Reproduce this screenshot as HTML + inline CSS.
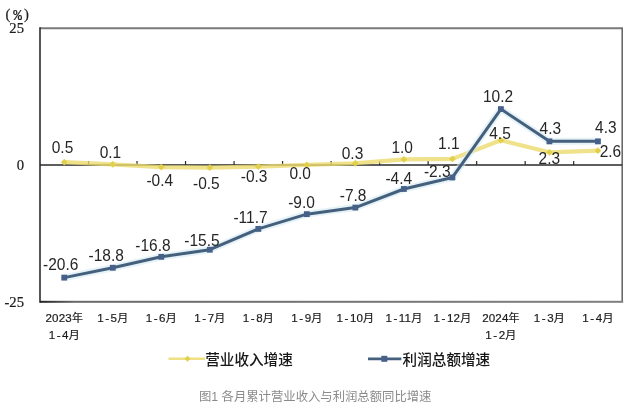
<!DOCTYPE html>
<html lang="zh-CN">
<head>
<meta charset="utf-8">
<title>图1 各月累计营业收入与利润总额同比增速</title>
<style>
html,body{margin:0;padding:0;background:#fff;}
body{width:632px;height:411px;overflow:hidden;position:relative;font-family:"Liberation Sans","Noto Sans CJK SC",sans-serif;}
svg{position:absolute;left:0;top:0;display:block;}
.dl{font-family:"Liberation Sans",sans-serif;font-size:15.5px;fill:#262626;text-anchor:middle;}
.ax{font-family:"Liberation Serif","Noto Serif CJK SC",serif;font-size:14.67px;fill:#1a1a1a;stroke:#1a1a1a;stroke-width:0.2px;text-anchor:end;}
.xl{font-family:"Liberation Sans","Noto Sans CJK SC",sans-serif;font-size:11.6px;letter-spacing:0.15px;fill:#1a1a1a;stroke:#1a1a1a;stroke-width:0.18px;text-anchor:middle;}
.cj{font-size:11px;}
.lg{font-family:"Liberation Sans","Noto Sans CJK SC",sans-serif;font-size:14.6px;fill:#151515;font-weight:500;}
.cap{font-family:"Liberation Sans","Noto Sans CJK SC",sans-serif;font-size:12.35px;fill:#8a8a8a;text-anchor:middle;}
</style>
</head>
<body>
<svg width="632" height="411" viewBox="0 0 632 411">
<defs>
<linearGradient id="bg" x1="0" y1="0" x2="1" y2="0"><stop offset="0" stop-color="#222"/><stop offset="0.06" stop-color="#6a6a6a"/><stop offset="1" stop-color="#808080"/></linearGradient>
<filter id="soft" x="-5%" y="-5%" width="110%" height="110%"><feGaussianBlur stdDeviation="0.45"/></filter>
</defs>
<rect x="0" y="0" width="632" height="411" fill="#ffffff"/>
<g filter="url(#soft)">

<path d="M40.0,28.2 H623.0" fill="none" stroke="#7a7a7a" stroke-width="2"/>
<path d="M622.2,28.2 V301.8" fill="none" stroke="#6a6a6a" stroke-width="1.6"/>
<rect x="40.0" y="300.8" width="583.2" height="2" fill="url(#bg)"/>
<path d="M40.0,27.2 V302.8" fill="none" stroke="#2a2a2a" stroke-width="1.6"/>
<path d="M40.0,164.9 H622.2" fill="none" stroke="#2a2a2a" stroke-width="1.5"/>
<path d="M88.52,164.9 v-4M137.03,164.9 v-4M185.55,164.9 v-4M234.07,164.9 v-4M282.58,164.9 v-4M331.10,164.9 v-4M379.62,164.9 v-4M428.13,164.9 v-4M476.65,164.9 v-4M525.17,164.9 v-4M573.68,164.9 v-4" fill="none" stroke="#2a2a2a" stroke-width="1.2"/>
<polyline points="64.26,162.16 112.78,164.35 161.29,167.09 209.81,167.64 258.33,166.54 306.84,164.90 355.36,163.26 403.88,159.43 452.39,158.88 500.91,140.28 549.43,152.31 597.94,150.67" fill="none" stroke="#ebdb6d" stroke-opacity="0.8" stroke-width="4.2" stroke-linejoin="round" stroke-linecap="round"/>
<path d="M60.86,162.16 L64.26,158.76 L67.66,162.16 L64.26,165.56 Z" fill="#e2d04e"/>
<path d="M109.38,164.35 L112.78,160.95 L116.18,164.35 L112.78,167.75 Z" fill="#e2d04e"/>
<path d="M157.89,167.09 L161.29,163.69 L164.69,167.09 L161.29,170.49 Z" fill="#e2d04e"/>
<path d="M206.41,167.64 L209.81,164.24 L213.21,167.64 L209.81,171.04 Z" fill="#e2d04e"/>
<path d="M254.93,166.54 L258.33,163.14 L261.73,166.54 L258.33,169.94 Z" fill="#e2d04e"/>
<path d="M303.44,164.90 L306.84,161.50 L310.24,164.90 L306.84,168.30 Z" fill="#e2d04e"/>
<path d="M351.96,163.26 L355.36,159.86 L358.76,163.26 L355.36,166.66 Z" fill="#e2d04e"/>
<path d="M400.48,159.43 L403.88,156.03 L407.28,159.43 L403.88,162.83 Z" fill="#e2d04e"/>
<path d="M448.99,158.88 L452.39,155.48 L455.79,158.88 L452.39,162.28 Z" fill="#e2d04e"/>
<path d="M497.51,140.28 L500.91,136.88 L504.31,140.28 L500.91,143.68 Z" fill="#e2d04e"/>
<path d="M546.03,152.31 L549.43,148.91 L552.83,152.31 L549.43,155.71 Z" fill="#e2d04e"/>
<path d="M594.54,150.67 L597.94,147.27 L601.34,150.67 L597.94,154.07 Z" fill="#e2d04e"/>
<polyline points="64.26,277.62 112.78,267.77 161.29,256.83 209.81,249.72 258.33,228.92 306.84,214.15 355.36,207.58 403.88,188.98 452.39,177.49 500.91,109.09 549.43,141.37 597.94,141.37" fill="none" stroke="#cfe7f0" stroke-opacity="0.55" stroke-width="7" stroke-linejoin="round" stroke-linecap="round"/>
<polyline points="64.26,277.62 112.78,267.77 161.29,256.83 209.81,249.72 258.33,228.92 306.84,214.15 355.36,207.58 403.88,188.98 452.39,177.49 500.91,109.09 549.43,141.37 597.94,141.37" fill="none" stroke="#44607c" stroke-width="3" stroke-linejoin="round" stroke-linecap="round"/>
<rect x="61.36" y="274.72" width="5.8" height="5.8" fill="#46608a"/>
<rect x="109.88" y="264.87" width="5.8" height="5.8" fill="#46608a"/>
<rect x="158.39" y="253.93" width="5.8" height="5.8" fill="#46608a"/>
<rect x="206.91" y="246.82" width="5.8" height="5.8" fill="#46608a"/>
<rect x="255.43" y="226.02" width="5.8" height="5.8" fill="#46608a"/>
<rect x="303.94" y="211.25" width="5.8" height="5.8" fill="#46608a"/>
<rect x="352.46" y="204.68" width="5.8" height="5.8" fill="#46608a"/>
<rect x="400.98" y="186.08" width="5.8" height="5.8" fill="#46608a"/>
<rect x="449.49" y="174.59" width="5.8" height="5.8" fill="#46608a"/>
<rect x="498.01" y="106.19" width="5.8" height="5.8" fill="#46608a"/>
<rect x="546.53" y="138.47" width="5.8" height="5.8" fill="#46608a"/>
<rect x="595.04" y="138.47" width="5.8" height="5.8" fill="#46608a"/>
<path d="M168.5,358.8 H205" stroke="#ebdb6d" stroke-opacity="0.85" stroke-width="2.4"/>
<path d="M184.5,358.8 l3,-3 l3,3 l-3,3 z" fill="#e2d04e"/>
<path d="M368,358.8 H401.3" stroke="#44607c" stroke-width="2.7"/>
<rect x="381.3" y="355.8" width="6" height="6" fill="#46608a"/>
</g>
<g id="labels" filter="url(#soft)">
<text class="dl" x="62.50" y="152.80" transform="translate(0,152.80) scale(1,1.11) translate(0,-152.80)">0.5</text>
<text class="dl" x="110.40" y="158.40" transform="translate(0,158.40) scale(1,1.11) translate(0,-158.40)">0.1</text>
<text class="dl" x="159.75" y="186.20" transform="translate(0,186.20) scale(1,1.11) translate(0,-186.20)">-0.4</text>
<text class="dl" x="206.35" y="189.00" transform="translate(0,189.00) scale(1,1.11) translate(0,-189.00)">-0.5</text>
<text class="dl" x="254.15" y="182.00" transform="translate(0,182.00) scale(1,1.11) translate(0,-182.00)">-0.3</text>
<text class="dl" x="300.20" y="179.40" transform="translate(0,179.40) scale(1,1.11) translate(0,-179.40)">0.0</text>
<text class="dl" x="352.50" y="158.70" transform="translate(0,158.70) scale(1,1.11) translate(0,-158.70)">0.3</text>
<text class="dl" x="402.20" y="153.00" transform="translate(0,153.00) scale(1,1.11) translate(0,-153.00)">1.0</text>
<text class="dl" x="448.90" y="149.00" transform="translate(0,149.00) scale(1,1.11) translate(0,-149.00)">1.1</text>
<text class="dl" x="500.00" y="138.60" transform="translate(0,138.60) scale(1,1.11) translate(0,-138.60)">4.5</text>
<text class="dl" x="549.30" y="164.00" transform="translate(0,164.00) scale(1,1.11) translate(0,-164.00)">2.3</text>
<text class="dl" x="610.40" y="157.00" transform="translate(0,157.00) scale(1,1.11) translate(0,-157.00)">2.6</text>
<text class="dl" x="60.65" y="269.90" transform="translate(0,269.90) scale(1,1.11) translate(0,-269.90)">-20.6</text>
<text class="dl" x="106.20" y="261.00" transform="translate(0,261.00) scale(1,1.11) translate(0,-261.00)">-18.8</text>
<text class="dl" x="153.00" y="250.90" transform="translate(0,250.90) scale(1,1.11) translate(0,-250.90)">-16.8</text>
<text class="dl" x="202.00" y="246.50" transform="translate(0,246.50) scale(1,1.11) translate(0,-246.50)">-15.5</text>
<text class="dl" x="250.50" y="223.10" transform="translate(0,223.10) scale(1,1.11) translate(0,-223.10)">-11.7</text>
<text class="dl" x="301.50" y="207.90" transform="translate(0,207.90) scale(1,1.11) translate(0,-207.90)">-9.0</text>
<text class="dl" x="353.15" y="201.20" transform="translate(0,201.20) scale(1,1.11) translate(0,-201.20)">-7.8</text>
<text class="dl" x="398.75" y="183.80" transform="translate(0,183.80) scale(1,1.11) translate(0,-183.80)">-4.4</text>
<text class="dl" x="437.25" y="177.00" transform="translate(0,177.00) scale(1,1.11) translate(0,-177.00)">-2.3</text>
<text class="dl" x="498.00" y="102.00" transform="translate(0,102.00) scale(1,1.11) translate(0,-102.00)">10.2</text>
<text class="dl" x="550.35" y="133.60" transform="translate(0,133.60) scale(1,1.11) translate(0,-133.60)">4.3</text>
<text class="dl" x="605.85" y="132.80" transform="translate(0,132.80) scale(1,1.11) translate(0,-132.80)">4.3</text>
<text class="ax" x="24" y="32.6">25</text>
<text class="ax" x="24" y="169.5">0</text>
<text class="ax" x="24" y="306.8">-25</text>
<text class="ax" y="19.3" style="text-anchor:start"><tspan x="5.4">(</tspan><tspan x="13.2" dy="1" style="font-family:'Liberation Mono',monospace;font-size:14.5px">%</tspan><tspan x="24.1" dy="-1">)</tspan></text>
<text class="xl" x="64.26" y="322.0">2023<tspan class="cj">年</tspan></text>
<text class="xl" x="64.26" y="338.8" dx="0 1.4 1.4">1-4<tspan class="cj">月</tspan></text>
<text class="xl" x="112.78" y="322.0" dx="0 1.4 1.4">1-5<tspan class="cj">月</tspan></text>
<text class="xl" x="161.29" y="322.0" dx="0 1.4 1.4">1-6<tspan class="cj">月</tspan></text>
<text class="xl" x="209.81" y="322.0" dx="0 1.4 1.4">1-7<tspan class="cj">月</tspan></text>
<text class="xl" x="258.33" y="322.0" dx="0 1.4 1.4">1-8<tspan class="cj">月</tspan></text>
<text class="xl" x="306.84" y="322.0" dx="0 1.4 1.4">1-9<tspan class="cj">月</tspan></text>
<text class="xl" x="355.36" y="322.0" dx="0 1.4 1.4">1-10<tspan class="cj">月</tspan></text>
<text class="xl" x="403.88" y="322.0" dx="0 1.4 1.4">1-11<tspan class="cj">月</tspan></text>
<text class="xl" x="452.39" y="322.0" dx="0 1.4 1.4">1-12<tspan class="cj">月</tspan></text>
<text class="xl" x="500.91" y="322.0">2024<tspan class="cj">年</tspan></text>
<text class="xl" x="500.91" y="338.8" dx="0 1.4 1.4">1-2<tspan class="cj">月</tspan></text>
<text class="xl" x="549.43" y="322.0" dx="0 1.4 1.4">1-3<tspan class="cj">月</tspan></text>
<text class="xl" x="597.94" y="322.0" dx="0 1.4 1.4">1-4<tspan class="cj">月</tspan></text>
<text class="lg" x="205.2" y="364.9">营业收入增速</text>
<text class="lg" x="402.6" y="364.9">利润总额增速</text>
<text class="cap" x="315.2" y="401">图1 各月累计营业收入与利润总额同比增速</text>
</g>
</svg>
</body>
</html>
